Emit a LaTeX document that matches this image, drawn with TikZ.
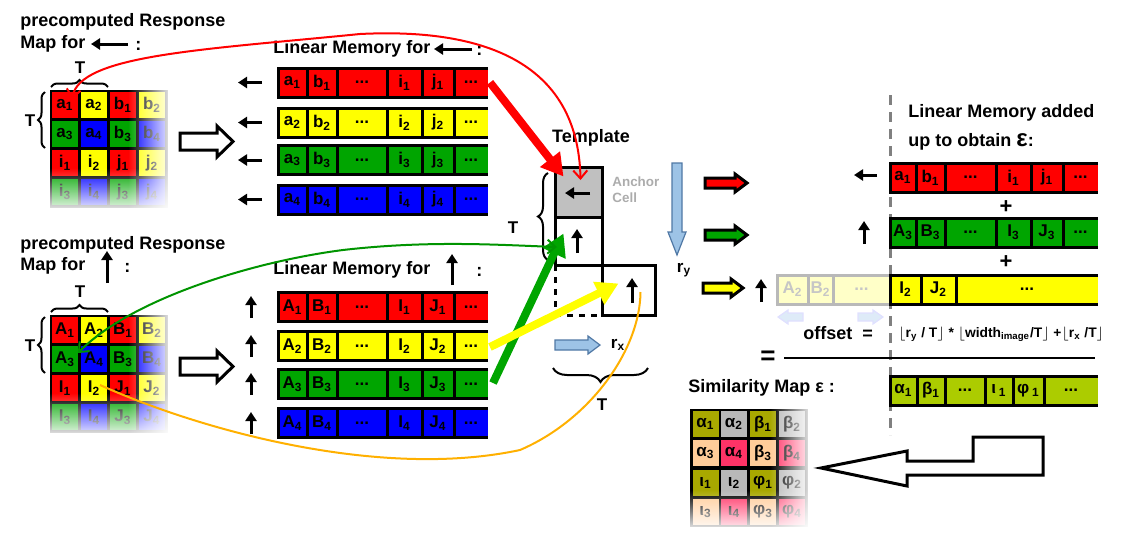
\documentclass[tikz,border=0pt]{standalone}
\usepackage{fontspec}
\setmainfont{Liberation Sans}
\usetikzlibrary{arrows.meta,decorations.pathreplacing,fadings}

\definecolor{memred}{RGB}{255,0,0}
\definecolor{memyellow}{RGB}{255,255,0}
\definecolor{memgreen}{RGB}{0,165,0}
\definecolor{memblue}{RGB}{0,0,255}
\definecolor{simolive}{RGB}{168,168,0}
\definecolor{simbar}{RGB}{172,204,0}
\definecolor{simgray}{RGB}{184,184,184}
\definecolor{simpeach}{RGB}{255,204,153}
\definecolor{simpink}{RGB}{255,51,102}
\definecolor{anchorgray}{RGB}{192,192,192}
\definecolor{skyblue}{RGB}{157,195,230}
\definecolor{skyedge}{RGB}{80,120,165}
\definecolor{paleblue}{RGB}{222,235,248}
\definecolor{curveorange}{RGB}{255,176,0}
\definecolor{paleyellow}{RGB}{255,255,200}
\newcommand{\ellip}{...}

\begin{document}
\begin{tikzpicture}[x=0.5pt,y=-0.5pt,
  every node/.style={font=\bfseries\fontsize{8.5}{10}\selectfont, inner sep=0pt},
  heading/.style={font=\bfseries\fontsize{9}{10}\selectfont, anchor=west},
  gcell/.style={minimum size=13pt},
  membar/.style={line width=1.5pt},
  fadebar/.style={line width=1.5pt, draw=gray!55},
  smallarr/.style={line width=1.5pt, -{Triangle[length=4.5pt,width=5.5pt]}},
  thickarr/.style={line width=4pt, -{Triangle[length=11pt,width=12pt]}},
  thincurve/.style={line width=1pt, {Straight Barb[length=4pt,width=7pt]}-{Straight Barb[length=4pt,width=7pt]}},
  hollow/.style={draw, line width=1.5pt, fill=white, line join=miter},
  blockarr/.style={draw, line width=1.5pt, line join=miter},
  bracedec/.style={decorate, decoration={brace, amplitude=3.5pt}, line width=1pt},
  tcell/.style={draw, line width=1.5pt}
]
\useasboundingbox (0,0) rectangle (1146,536);

% precomputed response map for left
\node[heading] (pr1) at (20,22) {precomputed Response};
\node[heading] (mf1) at (20,44) {Map for};
\draw[smallarr] (128,44) -- (91,44);
\node[heading] (cl1) at (135,46) {:};
\fill (50,90) rectangle (168,208);
\foreach \x/\c/\t/\n in {65/memred/a/1, 94/memyellow/a/2, 123/memred/b/1, 152/memyellow/b/2}
  \node[gcell,fill=\c] (tl\t\n) at (\x,105) {\t\textsubscript{\n}};
\foreach \x/\c/\t/\n in {65/memgreen/a/3, 94/memblue/a/4, 123/memgreen/b/3, 152/memblue/b/4}
  \node[gcell,fill=\c] (tl\t\n) at (\x,134) {\t\textsubscript{\n}};
\foreach \x/\c/\t/\n in {65/memred/i/1, 94/memyellow/i/2, 123/memred/j/1, 152/memyellow/j/2}
  \node[gcell,fill=\c] (tl\t\n) at (\x,163) {\t\textsubscript{\n}};
\foreach \x/\c/\t/\n in {65/memgreen/i/3, 94/memblue/i/4, 123/memgreen/j/3, 152/memblue/j/4}
  \node[gcell,fill=\c] (tl\t\n) at (\x,192) {\t\textsubscript{\n}};
\fill[white, path fading=west] (128,86) rectangle (174,212);
\fill[white, path fading=north] (46,168) rectangle (174,214);
\draw[bracedec] (51,87) -- (108,87);
\node (tlT1) at (80,68) {T};
\draw[bracedec] (45,148) -- (45,92);
\node (tlT2) at (30,121) {T};

% precomputed response map for up
\node[heading] (pr2) at (20,245) {precomputed Response};
\node[heading] (mf2) at (20,266) {Map for};
\draw[smallarr] (107,283) -- (107,251);
\node[heading] (cl2) at (124,268) {:};
\fill (50,315) rectangle (168,433);
\foreach \x/\c/\t/\n in {65/memred/A/1, 94/memyellow/A/2, 123/memred/B/1, 152/memyellow/B/2}
  \node[gcell,fill=\c] (bl\t\n) at (\x,330) {\t\textsubscript{\n}};
\foreach \x/\c/\t/\n in {65/memgreen/A/3, 94/memblue/A/4, 123/memgreen/B/3, 152/memblue/B/4}
  \node[gcell,fill=\c] (bl\t\n) at (\x,359) {\t\textsubscript{\n}};
\foreach \x/\c/\t/\n in {65/memred/I/1, 94/memyellow/I/2, 123/memred/J/1, 152/memyellow/J/2}
  \node[gcell,fill=\c] (bl\t\n) at (\x,388) {\t\textsubscript{\n}};
\foreach \x/\c/\t/\n in {65/memgreen/I/3, 94/memblue/I/4, 123/memgreen/J/3, 152/memblue/J/4}
  \node[gcell,fill=\c] (bl\t\n) at (\x,417) {\t\textsubscript{\n}};
\fill[white, path fading=west] (128,311) rectangle (174,437);
\fill[white, path fading=north] (46,393) rectangle (174,439);
\draw[bracedec] (51,312) -- (108,312);
\node (blT1) at (80,292) {T};
\draw[bracedec] (45,373) -- (45,317);
\node (blT2) at (30,346) {T};

% hollow arrows
\draw[hollow] (180,133) -- (217,133) -- (217,126) -- (233,141.5) -- (217,157) -- (217,150) -- (180,150) -- cycle;
\draw[hollow] (180,358) -- (217,358) -- (217,351) -- (233,366.5) -- (217,382) -- (217,375) -- (180,375) -- cycle;

% linear memory for left
\node[heading] (lm1) at (273,49) {Linear Memory for};
\draw[smallarr] (472,49) -- (434,49);
\node[heading] (cl3) at (476,51) {:};
\foreach \y/\c/\k in {82.5/memred/1, 122.5/memyellow/2, 160/memgreen/3, 199.5/memblue/4} {
  \fill[\c] (278,\y-14.5) rectangle (488,\y+14.5);
  \draw[membar] (488,\y-14.5) -| (278,\y+14.5) -- (488,\y+14.5);
  \foreach \s in {307,337,387,422,454} \draw[membar] (\s,\y-14.5) -- (\s,\y+14.5);
  \node (tm\k a) at (292.5,\y) {a\textsubscript{\k}};
  \node (tm\k b) at (322,\y) {b\textsubscript{\k}};
  \node (tm\k d) at (362,\y) {\ellip};
  \node (tm\k i) at (404.5,\y) {i\textsubscript{\k}};
  \node (tm\k j) at (438,\y) {j\textsubscript{\k}};
  \node (tm\k e) at (471,\y) {\ellip};
  \draw[smallarr] (262,\y) -- (238,\y);
}
\coordinate (tmend1) at (490,82.5);

% linear memory for up
\node[heading] (lm2) at (273,270) {Linear Memory for};
\draw[smallarr] (452,285) -- (452,254);
\node[heading] (cl4) at (476,272) {:};
\foreach \y/\c/\k in {307/memred/1, 346/memyellow/2, 384/memgreen/3, 423/memblue/4} {
  \fill[\c] (278,\y-14.5) rectangle (488,\y+14.5);
  \draw[membar] (488,\y-14.5) -| (278,\y+14.5) -- (488,\y+14.5);
  \foreach \s in {307,337,387,422,454} \draw[membar] (\s,\y-14.5) -- (\s,\y+14.5);
  \node (bm\k a) at (292.5,\y) {A\textsubscript{\k}};
  \node (bm\k b) at (322,\y) {B\textsubscript{\k}};
  \node (bm\k d) at (362,\y) {\ellip};
  \node (bm\k i) at (404.5,\y) {I\textsubscript{\k}};
  \node (bm\k j) at (438,\y) {J\textsubscript{\k}};
  \node (bm\k e) at (471,\y) {\ellip};
  \draw[smallarr] (251,\y+11) -- (251,\y-11);
}
\coordinate (bmend2) at (490,347);
\coordinate (bmend3) at (493,383);

% template
\node (ttitle) at (591,138) {\fontsize{9}{10}\selectfont Template};
\node[tcell, fill=anchorgray, minimum width=23.5pt, minimum height=25pt] (tanchor) at (578.5,192) {};
\node[tcell, minimum width=23.5pt, minimum height=24pt] (twhite) at (578.5,241) {};
\node[tcell, dashed, minimum width=23.5pt, minimum height=25pt] (tdash) at (578.5,290) {};
\node[tcell, minimum width=26.5pt, minimum height=25pt] (tright) at (628.5,290) {};
\draw[smallarr] (590,193) -- (565,193);
\draw[smallarr] (577,253) -- (577,229);
\draw[smallarr] (632,303) -- (632,278);
\node[anchor=west, align=left, text=gray!65, font=\bfseries\fontsize{6.7}{8}\selectfont] (tcap) at (612,190) {Anchor\\Cell};
\draw[bracedec, decoration={amplitude=5pt}] (548,260) -- (548,173);
\node (tT1) at (513,228) {T};
\draw[bracedec, decoration={amplitude=7pt}] (648,368) -- (553,368);
\node (tT2) at (602,405) {T};
\draw[fill=skyblue, draw=skyedge, line width=0.6pt] (672,163) -- (682,163) -- (682,232) -- (686,232) -- (677,255) -- (668,232) -- (672,232) -- cycle;
\node (ry) at (684,270) {r\textsubscript{y}};
\draw[fill=skyblue, draw=skyedge, line width=0.6pt] (555,340) -- (588,340) -- (588,336) -- (600,345) -- (588,354) -- (588,350) -- (555,350) -- cycle;
\node (rx) at (618,345) {r\textsubscript{x}};

% thick arrows into template
\draw[thickarr, memred] (tmend1) -- ([xshift=5pt,yshift=-5.5pt]tanchor.north west);
\draw[thickarr, memgreen] (bmend3) -- ([xshift=5pt,yshift=-9pt]twhite.north west);
\draw[thickarr, memyellow] (bmend2) -- ([xshift=9pt,yshift=-10pt]tright.north west);

% thin curves
\draw[thincurve, red] ([xshift=3.5pt,yshift=3pt]tla1.center) .. controls (80,55) and (200,50) .. (360,34)
  .. controls (480,28) and (578,60) .. ([xshift=1pt,yshift=6pt]tanchor.center);
\draw[thincurve, memgreen!90!black] ([xshift=6.5pt,yshift=3pt]blA3.center) .. controls (130,300) and (250,262) .. (343,250)
  .. controls (430,240) and (500,245) .. ([xshift=-10.75pt,yshift=-3pt]twhite.center);
\draw[line width=1pt, curveorange] ([xshift=3pt,yshift=1.5pt]blI2.center) .. controls (200,430) and (380,480) .. (520,450)
  .. controls (590,420) and (640,350) .. ([xshift=6pt,yshift=-1pt]tright.center);

% right part
\draw[gray, line width=1.5pt, dash pattern=on 5pt off 3.5pt] (890,95) -- (890,435);
\node[heading] (la1) at (908,113) {Linear Memory added};
\node[heading] (la2) at (908,142) {up to obtain {\fontsize{12}{12}\selectfont ε}:};
\foreach \y/\c in {183/memred, 235/memgreen}
  \draw[blockarr, fill=\c] (705,\y-5) -- (735,\y-5) -- (735,\y-9) -- (747,\y) -- (735,\y+9) -- (735,\y+5) -- (705,\y+5) -- cycle;
\draw[blockarr, fill=memyellow] (703,283) -- (731,283) -- (731,279) -- (743,288) -- (731,297) -- (731,293) -- (703,293) -- cycle;
\draw[smallarr] (877,175) -- (854,175);
\draw[smallarr] (864,244) -- (864,221);
\draw[smallarr] (761,302) -- (761,279);

\fill[memred] (890,163) rectangle (1098,192);
\draw[membar] (1098,163) -| (890,192) -- (1098,192);
\foreach \s in {916,945,996,1031,1063} \draw[membar] (\s,163) -- (\s,192);
\foreach \x/\t [count=\i] in {903/a\textsubscript{1}, 930.5/b\textsubscript{1}, 970.5/\ellip, 1013.5/i\textsubscript{1}, 1047/j\textsubscript{1}, 1080.5/\ellip}
  \node (ra\i) at (\x,177.5) {\t};
\node (plus1) at (1006,207) {\fontsize{11}{11}\selectfont +};
\fill[memgreen] (890,218) rectangle (1098,247);
\draw[membar] (1098,218) -| (890,247) -- (1098,247);
\foreach \s in {916,945,996,1031,1063} \draw[membar] (\s,218) -- (\s,247);
\foreach \x/\t [count=\i] in {903/A\textsubscript{3}, 930.5/B\textsubscript{3}, 970.5/\ellip, 1013.5/I\textsubscript{3}, 1047/J\textsubscript{3}, 1080.5/\ellip}
  \node (rg\i) at (\x,232.5) {\t};
\node (plus2) at (1006,262) {\fontsize{11}{11}\selectfont +};
\fill[paleyellow] (777,275) rectangle (890,304);
\draw[fadebar] (890,275) -| (777,304) -- (890,304);
\foreach \s in {808,833} \draw[fadebar] (\s,275) -- (\s,304);
\foreach \x/\t [count=\i] in {792.5/A\textsubscript{2}, 820.5/B\textsubscript{2}, 861.5/\ellip}
  \node[text=gray!45] (rf\i) at (\x,289.5) {\t};
\fill[memyellow] (890,275) rectangle (1098,304);
\draw[membar] (1098,275) -| (890,304) -- (1098,304);
\foreach \s in {921,956} \draw[membar] (\s,275) -- (\s,304);
\foreach \x/\t [count=\i] in {905.5/I\textsubscript{2}, 938.5/J\textsubscript{2}, 1027/\ellip}
  \node (ry\i) at (\x,289.5) {\t};
\draw[fill=paleblue, draw=blue!12, line width=0.6pt] (778,317) -- (788,310) -- (788,313) -- (803,313) -- (803,321) -- (788,321) -- (788,324) -- cycle;
\draw[fill=paleblue, draw=blue!12, line width=0.6pt] (883,317) -- (873,310) -- (873,313) -- (858,313) -- (858,321) -- (873,321) -- (873,324) -- cycle;

% offset formula
\node[heading] (off) at (803,333) {offset\ \ =};
\node[anchor=west, font=\bfseries\fontsize{6.9}{8.5}\selectfont] (form) at (898,334)
  {$\lfloor$r\textsubscript{y} / T$\rfloor$ * $\lfloor$width\textsubscript{image}/T$\rfloor$ +$\lfloor$r\textsubscript{x} /T$\rfloor$};
\node (eq) at (768,358) {\fontsize{13}{13}\selectfont =};
\draw[line width=1pt] (784,358) -- (1095,358);

% similarity map
\node[heading] (sm) at (688,388) {Similarity Map ε :};
\fill[simbar] (890,376) rectangle (1098,405);
\draw[membar] (1098,376) -| (890,405) -- (1098,405);
\foreach \s in {917,945,985,1013,1044} \draw[membar] (\s,376) -- (\s,405);
\foreach \x/\t [count=\i] in {903.5/α\textsubscript{1}, 931/β\textsubscript{1}, 965/\ellip, 999/ι\,\textsubscript{1}, 1028.5/φ\,\textsubscript{1}, 1071/\ellip}
  \node (rs\i) at (\x,390.5) {\t};
\fill (690,409) rectangle (808,527);
\foreach \x/\c/\t/\n in {705.5/simolive/α/1, 734/simgray/α/2, 763/simolive/β/1, 792/simgray/β/2}
  \node[gcell,fill=\c] (sm\n a) at (\x,424) {\t\textsubscript{\n}};
\foreach \x/\c/\t/\n in {705.5/simpeach/α/3, 734/simpink/α/4, 763/simpeach/β/3, 792/simpink/β/4}
  \node[gcell,fill=\c] (sm\n b) at (\x,453) {\t\textsubscript{\n}};
\foreach \x/\c/\t/\n in {705.5/simolive/ι/1, 734/simgray/ι/2, 763/simolive/φ/1, 792/simgray/φ/2}
  \node[gcell,fill=\c] (sm\n c) at (\x,483) {\t\textsubscript{\n}};
\foreach \x/\c/\t/\n in {705.5/simpeach/ι/3, 734/simpink/ι/4, 763/simpeach/φ/3, 792/simpink/φ/4}
  \node[gcell,fill=\c] (sm\n d) at (\x,512) {\t\textsubscript{\n}};
\fill[white, path fading=west] (770,405) rectangle (814,531);
\fill[white, path fading=north] (686,490) rectangle (814,533);
\draw[hollow] (821,468) -- (907,451) -- (907,461) -- (973,461) -- (973,437) -- (1043,437) -- (1043,475) -- (907,475) -- (907,486) -- cycle;
\end{tikzpicture}
\end{document}
